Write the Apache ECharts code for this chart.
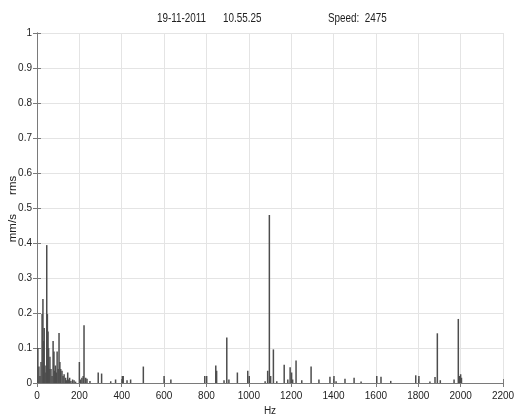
<!DOCTYPE html>
<html>
<head>
<meta charset="utf-8">
<script src="https://cdn.jsdelivr.net/npm/echarts@6/dist/echarts.min.js"></script>
<style>
  html, body { margin: 0; padding: 0; background: #fff; }
  #chart { width: 515px; height: 418px; }
</style>
</head>
<body>
<div id="chart"></div>
<script>
// Spectrum lines: frequency (Hz) and amplitude (mm/s rms)
const freqs = [
  4, 9, 14, 19, 24, 28, 31, 34, 38, 42, 46, 49, 52, 55, 58, 61, 66, 71, 76, 80,
  84, 87, 91, 95, 100, 104, 108, 112, 118, 123, 128, 135, 140, 145, 150, 154, 160, 168, 175, 182,
  200, 206, 212, 218, 222, 230, 236, 250,
  289, 305, 348, 371, 403, 407, 425, 442, 502, 600, 632,
  792, 801, 844, 848, 883, 896, 906, 946, 995, 1002,
  1077, 1089, 1097, 1103, 1116, 1132, 1167, 1184, 1195, 1202, 1207, 1223, 1250,
  1294, 1331, 1383, 1402, 1412, 1454, 1497, 1530, 1604, 1624, 1670,
  1788, 1803, 1855, 1879, 1890, 1904, 1969, 1989, 1994, 2000, 2004
];
const amps = [
  0.1, 0.047, 0.02, 0.06, 0.197, 0.24, 0.12, 0.157, 0.05, 0.03, 0.394, 0.197, 0.147, 0.1, 0.04, 0.075, 0.04, 0.02, 0.12, 0.09,
  0.035, 0.05, 0.03, 0.09, 0.04, 0.143, 0.06, 0.04, 0.035, 0.02, 0.025, 0.015, 0.008, 0.03, 0.01, 0.015, 0.006, 0.01, 0.008, 0.004,
  0.06, 0.01, 0.015, 0.02, 0.165, 0.015, 0.012, 0.006,
  0.03, 0.027, 0.005, 0.01, 0.02, 0.02, 0.008, 0.01, 0.047, 0.02, 0.01,
  0.02, 0.02, 0.05, 0.035, 0.008, 0.13, 0.01, 0.03, 0.035, 0.02,
  0.005, 0.035, 0.48, 0.02, 0.096, 0.005, 0.052, 0.01, 0.045, 0.03, 0.01, 0.064, 0.008,
  0.047, 0.01, 0.018, 0.02, 0.005, 0.012, 0.015, 0.004, 0.02, 0.018, 0.006,
  0.022, 0.02, 0.004, 0.017, 0.142, 0.008, 0.01, 0.183, 0.02, 0.025, 0.015
];

const headerTexts = ['19-11-2011', '10.55.25', 'Speed:  2475'];
const headerLeft = [157, 223, 328];
const yAxisTitle = 'mm/s      rms';

const FONT = "'Liberation Sans', Arial, sans-serif";
const frameColor = '#7a7a7a';
const textColor = '#222';

const chart = echarts.init(document.getElementById('chart'), null, { renderer: 'canvas' });

const points = freqs.map((f, i) => [f, amps[i]]);

// header line drawn slightly condensed, plus the rotated unit label
const graphics = headerTexts.map((t, i) => ({
  type: 'text',
  x: headerLeft[i],
  y: 12,
  scaleX: 0.76,
  style: { text: t, fontFamily: FONT, fontSize: 13, fill: textColor }
}));
graphics.push({
  type: 'text',
  x: 13,
  y: 209,
  rotation: Math.PI / 2,
  style: {
    text: yAxisTitle, fontFamily: FONT, fontSize: 11.5, fill: textColor,
    align: 'center', verticalAlign: 'middle'
  }
});

const option = {
  backgroundColor: '#fff',
  animation: false,
  graphic: graphics,
  grid: { left: 37, right: 12, top: 33, bottom: 35, containLabel: false, outerBoundsMode: 'none' },
  xAxis: [
    {
      type: 'value', min: 0, max: 2200, interval: 200, position: 'bottom',
      name: 'Hz', nameLocation: 'middle', nameGap: 22,
      nameTextStyle: { fontFamily: FONT, fontSize: 10, color: textColor },
      axisLine: { show: true, lineStyle: { color: frameColor } },
      axisTick: { show: true, inside: true, length: 4, lineStyle: { color: frameColor } },
      axisLabel: { fontFamily: FONT, fontSize: 10, color: textColor, margin: 8, formatter: v => String(v) },
      splitLine: { show: true, lineStyle: { color: '#e4e4e4', width: 1 } }
    },
    {
      type: 'value', min: 0, max: 2200, interval: 200, position: 'top',
      axisLine: { show: true, lineStyle: { color: frameColor } },
      axisTick: { show: true, inside: true, length: 4, lineStyle: { color: frameColor } },
      axisLabel: { show: false },
      splitLine: { show: false }
    }
  ],
  yAxis: [
    {
      type: 'value', min: 0, max: 1, interval: 0.1, position: 'left',
      axisLine: { show: true, lineStyle: { color: frameColor } },
      axisTick: { show: true, inside: true, length: 4, lineStyle: { color: frameColor } },
      axisLabel: {
        fontFamily: FONT, fontSize: 10, color: textColor, margin: 5,
        formatter: v => String(Math.round(v * 10) / 10)
      },
      splitLine: { show: true, lineStyle: { color: '#e4e4e4', width: 1 } }
    },
    {
      type: 'value', min: 0, max: 1, interval: 0.1, position: 'right',
      axisLine: { show: true, lineStyle: { color: frameColor } },
      axisTick: { show: true, inside: true, length: 4, lineStyle: { color: frameColor } },
      axisLabel: { show: false },
      splitLine: { show: false }
    }
  ],
  series: [
    {
      type: 'bar',
      xAxisIndex: 0,
      yAxisIndex: 0,
      barWidth: 1.5,
      itemStyle: { color: '#4d4d4d' },
      data: points
    }
  ]
};

chart.setOption(option);
</script>
</body>
</html>
